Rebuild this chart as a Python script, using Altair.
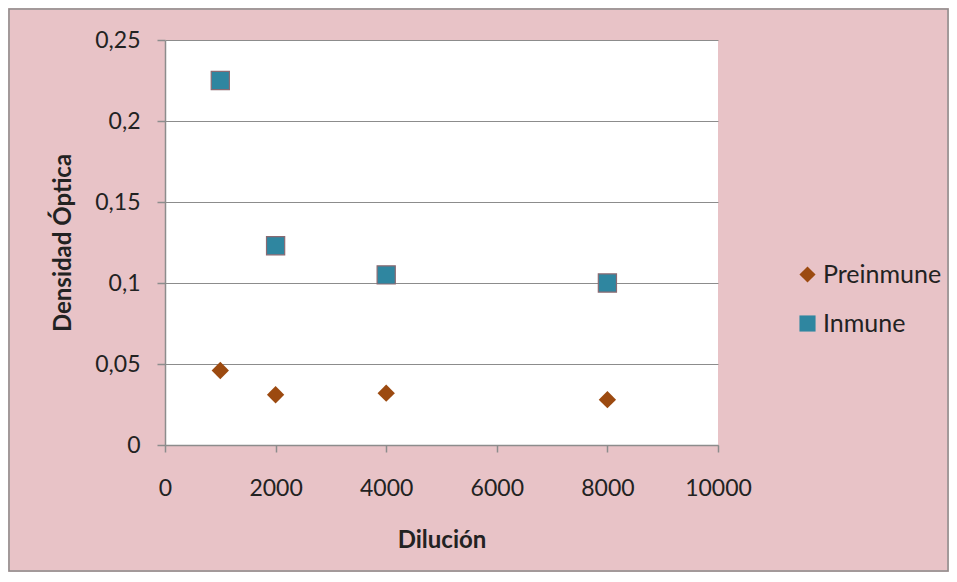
import altair as alt
import pandas as pd

dilucion = [1000, 2000, 4000, 8000]
preinmune = [0.046, 0.031, 0.032, 0.028]
inmune = [0.225, 0.123, 0.105, 0.100]
series = ["Preinmune", "Inmune"]
colors = ["#9c4a10", "#2f86a0"]
shapes = ["diamond", "square"]

df_pre = pd.DataFrame({"Dilución": dilucion, "DO": preinmune, "Serie": series[0]})
df_inm = pd.DataFrame({"Dilución": dilucion, "DO": inmune, "Serie": series[1]})

FONT = "Lato"

x = alt.X("Dilución:Q", title="Dilución",
          scale=alt.Scale(domain=[0, 10000], nice=False),
          axis=alt.Axis(values=[0, 2000, 4000, 6000, 8000, 10000], grid=False, format="d",
                        labelFlush=False, tickSize=7, labelPadding=25, titlePadding=28))
y = alt.Y("DO:Q", title="Densidad Óptica",
          scale=alt.Scale(domain=[0, 0.25], nice=False),
          axis=alt.Axis(values=[0, 0.05, 0.1, 0.15, 0.2, 0.25],
                        labelExpr="replace(format(datum.value, '.2~f'), '.', ',')",
                        labelFlush=False,
                        grid=True, tickSize=8, labelPadding=17, titlePadding=19))
color = alt.Color("Serie:N", scale=alt.Scale(domain=series, range=colors),
                  legend=alt.Legend(title=None, orient="none", legendX=630, legendY=222,
                                    symbolSize=260, labelFontSize=25, labelFont=FONT,
                                    labelColor="#222222", rowPadding=23, padding=0,
                                    symbolStrokeWidth=0, labelOffset=3))
shape = alt.Shape("Serie:N", scale=alt.Scale(domain=series, range=shapes), legend=None)

frame = alt.Chart(pd.DataFrame({"a": [0]})).mark_rect(
    fill=None, stroke="#8c8c8c", strokeWidth=1.5, clip=False
).encode(x=alt.value(-156), x2=alt.value(553 + 230), y=alt.value(-31), y2=alt.value(405 + 126))

pre = alt.Chart(df_pre).mark_point(filled=True, size=300, opacity=1).encode(
    x=x, y=y, color=color, shape=shape)
inm = alt.Chart(df_inm).mark_point(filled=True, size=330, opacity=1, stroke="#8a6a72",
                                    strokeWidth=1.2).encode(
    x=x, y=y, color=color, shape=shape)

chart = alt.layer(frame, pre, inm).properties(
    width=553, height=405,
    padding={"left": 157, "top": 32, "right": 231, "bottom": 127},
    autosize=alt.AutoSizeParams(type="none"),
    background="#e8c3c7",
).configure_view(
    fill="white", stroke=None
).configure_axis(
    labelFont=FONT, labelFontSize=23, labelColor="#222222",
    titleFont=FONT, titleFontSize=24, titleFontWeight="bold", titleColor="#222222",
    domainColor="#8c8c8c", tickColor="#8c8c8c", gridColor="#8c8c8c",
    domainWidth=1.5, tickWidth=1.5, gridWidth=1.2
)

chart.save("out.html", embed_options={"renderer": "svg", "actions": False})
